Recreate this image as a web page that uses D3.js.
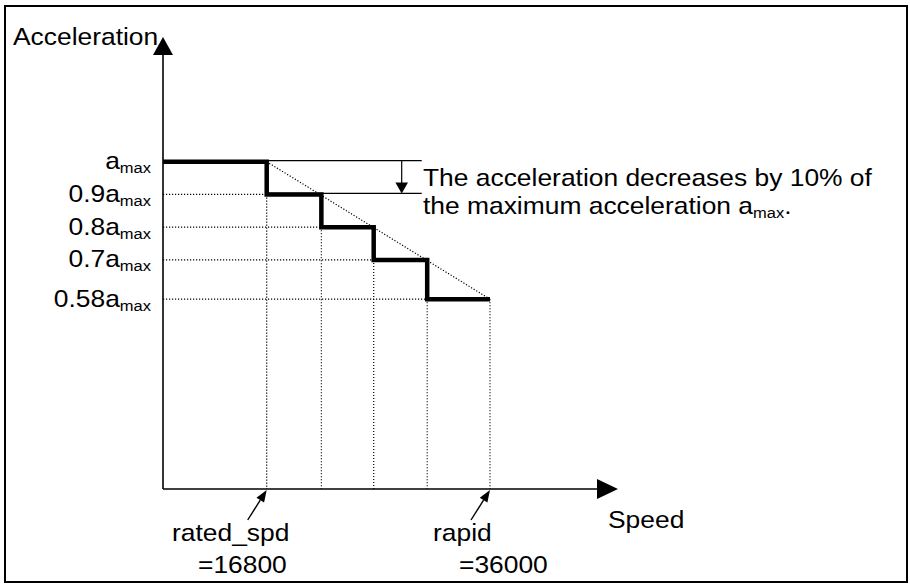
<!DOCTYPE html>
<html><head><meta charset="utf-8">
<script src="https://cdn.jsdelivr.net/npm/d3@7"></script>
<style>
html,body{margin:0;padding:0;background:#fff;}
svg{display:block;font-family:"Liberation Sans",Arial,sans-serif;}
</style></head>
<body>
<svg id="chart" width="910" height="584"></svg>
<script>
// ---- data ----
const levels = [1.0, 0.9, 0.8, 0.7, 0.58];          // acceleration as fraction of a_max
const levelPrefixes = ["", "0.9", "0.8", "0.7", "0.58"];
const stepSpeeds = [16800, 21500, 26000, 30600, 36000]; // speeds where acceleration steps down
const markNames = ["rated_spd", "rapid"];
const markValues = ["=16800", "=36000"];
const markSpeeds = [16800, 36000];
const noteLines = ["The acceleration decreases by 10% of", "the maximum acceleration a"];

// ---- layout ----
const svg = d3.select("#chart");
const x = d3.scaleLinear().domain([0, 16800, 36000]).range([163, 266.7, 490]);
const y = d3.scaleLinear().domain([0, 1]).range([489, 161.7]);
const xAxisEnd = 618, yAxisTop = 37;
const fs = 24, subFs = 15, sx = 1.1;

function txt(px, py, anchor) {
  return svg.append("text")
    .attr("transform", `translate(${px},${py}) scale(${sx},1)`)
    .attr("text-anchor", anchor || "start")
    .attr("font-size", fs).attr("fill", "#000");
}

// border
svg.append("rect").attr("x", 5).attr("y", 6).attr("width", 902).attr("height", 576)
  .attr("fill", "none").attr("stroke", "#000").attr("stroke-width", 2);

// dotted guides
const dot = g => g.attr("stroke", "#000").attr("stroke-width", 1.2).attr("stroke-dasharray", "1.2,1.8").attr("fill", "none");
levels.slice(1).forEach((lv, i) => {
  svg.append("line").attr("x1", x(0)).attr("x2", x(stepSpeeds[i])).attr("y1", y(lv)).attr("y2", y(lv)).call(dot);
});
stepSpeeds.forEach((s, i) => {
  const lv = i < levels.length - 1 ? levels[i + 1] : levels[levels.length - 1];
  svg.append("line").attr("x1", x(s)).attr("x2", x(s)).attr("y1", y(lv)).attr("y2", y(0)).call(dot);
});
// diagonal linear-decrease guide
svg.append("line").attr("x1", x(stepSpeeds[0])).attr("y1", y(levels[0]))
  .attr("x2", x(stepSpeeds[stepSpeeds.length - 1])).attr("y2", y(levels[levels.length - 1])).call(dot);

// annotation thin lines + arrow
const annEnd = 421.7, annArrowX = 401.7;
[levels[0], levels[1]].forEach(lv => {
  svg.append("line").attr("x1", x(stepSpeeds[0])).attr("x2", annEnd).attr("y1", y(lv) - 1).attr("y2", y(lv) - 1)
    .attr("stroke", "#000").attr("stroke-width", 1.2);
});
const aTip = y(levels[1]) - 1;
svg.append("line").attr("x1", annArrowX).attr("x2", annArrowX).attr("y1", y(levels[0]) - 1).attr("y2", aTip - 10)
  .attr("stroke", "#000").attr("stroke-width", 1.2);
svg.append("path").attr("d", `M${annArrowX - 6.3},${aTip - 11} L${annArrowX + 6.3},${aTip - 11} L${annArrowX},${aTip} Z`).attr("fill", "#000");

// step line
const pts = [[0, levels[0]]];
stepSpeeds.forEach((s, i) => {
  pts.push([s, levels[i]]);
  if (i < levels.length - 1) pts.push([s, levels[i + 1]]);
});
svg.append("path").datum(pts)
  .attr("d", d3.line().x(d => x(d[0])).y(d => y(d[1])))
  .attr("fill", "none").attr("stroke", "#000").attr("stroke-width", 4.5).attr("stroke-linejoin", "miter");

// axes
svg.append("line").attr("x1", x(0)).attr("x2", x(0)).attr("y1", y(0)).attr("y2", yAxisTop + 16).attr("stroke", "#000").attr("stroke-width", 1.6);
svg.append("path").attr("d", `M${x(0) - 10},${yAxisTop + 18} L${x(0) + 10},${yAxisTop + 18} L${x(0)},${yAxisTop} Z`).attr("fill", "#000");
svg.append("line").attr("x1", x(0)).attr("x2", xAxisEnd - 18).attr("y1", y(0)).attr("y2", y(0)).attr("stroke", "#000").attr("stroke-width", 1.6);
svg.append("path").attr("d", `M${xAxisEnd - 21},${y(0) - 10} L${xAxisEnd - 21},${y(0) + 10} L${xAxisEnd},${y(0)} Z`).attr("fill", "#000");

// axis titles
txt(13, 45).text("Acceleration");
txt(608, 528).text("Speed");

// level labels
levels.forEach((lv, i) => {
  const t = txt(151, y(lv) + 7.5, "end");
  t.append("tspan").text(levelPrefixes[i] + "a");
  t.append("tspan").attr("font-size", subFs).attr("dy", 4).text("max");
});

// note
txt(423, 186).text(noteLines[0]);
const n2 = txt(423, 214);
n2.append("tspan").text(noteLines[1]);
n2.append("tspan").attr("font-size", subFs).attr("dy", 4).text("max");
n2.append("tspan").attr("dy", -4).text(".");

// speed markers with pointer arrows
const labelX = [172, 433];
markSpeeds.forEach((s, i) => {
  const tx = x(s), ty = y(0) + 1;
  const sxp = tx - 19, syp = ty + 30;
  const ang = Math.atan2(ty - syp, tx - sxp);
  const L = 12, W = 4.5;
  const bx = tx - L * Math.cos(ang), by = ty - L * Math.sin(ang);
  svg.append("line").attr("x1", sxp).attr("y1", syp).attr("x2", bx).attr("y2", by).attr("stroke", "#000").attr("stroke-width", 1.4);
  svg.append("path").attr("d", `M${tx},${ty} L${bx + W * Math.sin(ang)},${by - W * Math.cos(ang)} L${bx - W * Math.sin(ang)},${by + W * Math.cos(ang)} Z`).attr("fill", "#000");
  txt(labelX[i], 541).text(markNames[i]);
  txt(labelX[i] + 26, 573).text(markValues[i]);
});
</script>
</body></html>
